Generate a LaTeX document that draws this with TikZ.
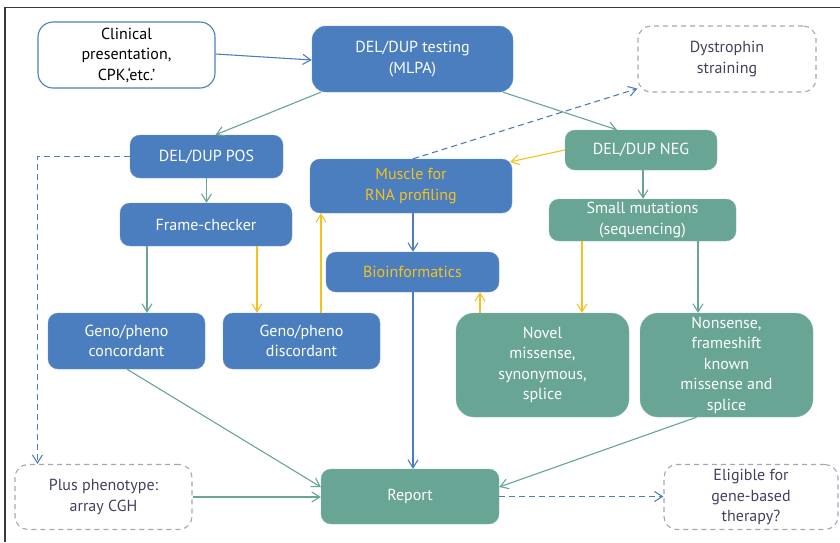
\documentclass[tikz,border=0pt]{standalone}
\usepackage{fontspec}
\setmainfont{PT Sans}
\usetikzlibrary{arrows.meta,calc}
\definecolor{cblue}{HTML}{4A7EBF}
\definecolor{cgreen}{HTML}{68A594}
\definecolor{cyellow}{HTML}{F6C11E}
\definecolor{cgray}{HTML}{A8A4B6}
\definecolor{cdark}{HTML}{45405F}
\definecolor{cframe}{HTML}{3A3A3A}
\tikzset{
  base/.style={rectangle, align=center, font=\fontsize{16}{20.5}\selectfont, inner sep=2pt},
  bluebox/.style={base, fill=cblue, draw=cblue!80!white, text=white, rounded corners=10pt},
  greenbox/.style={base, fill=cgreen, draw=cgreen!80!white, text=white, rounded corners=10pt},
  yellowtext/.style={text=cyellow},
  dashbox/.style={base, draw=cgray, dashed, dash pattern=on 5pt off 4pt, line width=1.1pt, text=cdark, rounded corners=13pt},
  clinbox/.style={base, draw=cblue, line width=1.1pt, fill=white, text=black, rounded corners=15pt},
  arr/.style={-{Straight Barb[length=8pt,width=10pt]}, line width=1.1pt},
  garr/.style={arr, draw=cgreen},
  barr/.style={arr, draw=cblue},
  yarr/.style={arr, draw=cyellow},
  darr/.style={arr, draw=cblue, dashed, dash pattern=on 6pt off 4pt},
}
\begin{document}
\begin{tikzpicture}[x=1pt,y=-1pt]
\useasboundingbox (0,0) rectangle (840,542);
\draw[cframe, line width=1.5pt] (5,542) -- (5,7.5) -- (840,7.5);

\node[clinbox, minimum width=177pt, minimum height=66pt] (clin) at (126.5,55) {Clinical\\presentation,\\CPK,‘etc.’};
\node[bluebox, minimum width=201pt, minimum height=66pt, rounded corners=14pt] (mlpa) at (412.5,59) {DEL/DUP testing\\(MLPA)};
\node[dashbox, minimum width=178pt, minimum height=66pt] (dys) at (727,59) {Dystrophin\\straining};
\node[bluebox, minimum width=153pt, minimum height=43pt] (pos) at (206.5,156.5) {DEL/DUP POS};
\node[greenbox, minimum width=152pt, minimum height=40pt] (neg) at (641,150) {DEL/DUP NEG};
\node[bluebox, yellowtext, minimum width=202pt, minimum height=54pt] (musc) at (411,186) {Muscle for\\RNA profiling};
\node[bluebox, minimum width=172pt, minimum height=43pt] (frame) at (206,224.5) {Frame-checker};
\node[greenbox, minimum width=187pt, minimum height=42pt] (small) at (642.5,220) {Small mutations\\(sequencing)};
\node[bluebox, yellowtext, minimum width=173pt, minimum height=40pt] (bio) at (412.5,272) {Bioinformatics};
\node[bluebox, minimum width=157pt, minimum height=56pt] (conc) at (126.5,341) {Geno/pheno\\concordant};
\node[bluebox, minimum width=157pt, minimum height=56pt] (disc) at (301.5,341) {Geno/pheno\\discordant};
\node[greenbox, minimum width=173pt, minimum height=104pt, rounded corners=18pt] (novel) at (542.5,365) {Novel\\missense,\\synonymous,\\splice};
\node[greenbox, minimum width=173pt, minimum height=104pt, rounded corners=18pt] (nons) at (726.5,365) {Nonsense,\\frameshift\\known\\missense and\\splice};
\node[dashbox, minimum width=177pt, minimum height=65pt] (plus) at (103.5,497) {Plus phenotype:\\array CGH};
\node[greenbox, minimum width=178pt, minimum height=55pt] (report) at (410,496.5) {Report};
\node[dashbox, minimum width=174pt, minimum height=65pt] (elig) at (751,497) {Eligible for\\gene-based\\therapy?};

% connectors
\draw[barr] (clin.east |- 0,54) -- (mlpa.west |- 0,60);
\draw[garr] ([xshift=9pt]mlpa.south west) -- ([xshift=9pt]pos.north);
\draw[garr] ([xshift=-10pt]mlpa.south east) -- ([xshift=-24pt]neg.north);
\draw[darr] ([xshift=2pt]musc.north) -- ([yshift=4pt]dys.south west);
\draw[yarr] (neg.west) -- ([xshift=-2pt,yshift=-3pt]musc.north east);
\draw[darr] (pos.west) -| ([xshift=23pt]plus.north west);
\draw[garr] (pos.south) -- (pos.south |- frame.north);
\draw[garr] ([xshift=2pt]neg.south) -- ([xshift=2pt]neg.south |- small.north);
\draw[garr] ([xshift=-59pt]frame.south) coordinate (f1) -- (f1 |- conc.north);
\draw[yarr] ([xshift=51pt]frame.south) coordinate (f2) -- (f2 |- disc.north);
\draw[yarr] ([xshift=19.5pt]disc.north) coordinate (d1) -- (d1 |- musc.south);
\draw[barr] ([xshift=2pt]musc.south) coordinate (m1) -- (m1 |- bio.north);
\draw[yarr] ([xshift=-62.5pt]novel.north) coordinate (n1) -- (n1 |- bio.south);
\draw[yarr] ([xshift=-60.5pt]small.south) coordinate (s1) -- (s1 |- novel.north);
\draw[garr] ([xshift=55.5pt]small.south) coordinate (s2) -- (s2 |- nons.north);
\draw[barr] ([xshift=0.5pt]bio.south) coordinate (b1) -- (b1 |- report.north);
\draw[garr] ([xshift=0.5pt]conc.south) -- ([yshift=9.5pt]report.west);
\draw[garr] ([xshift=-30pt]nons.south) -- ([yshift=9.5pt]report.east);
\draw[garr] (plus.east) -- (plus.east -| report.west);
\draw[darr] (report.east) -- (report.east -| elig.west);
\end{tikzpicture}
\end{document}
